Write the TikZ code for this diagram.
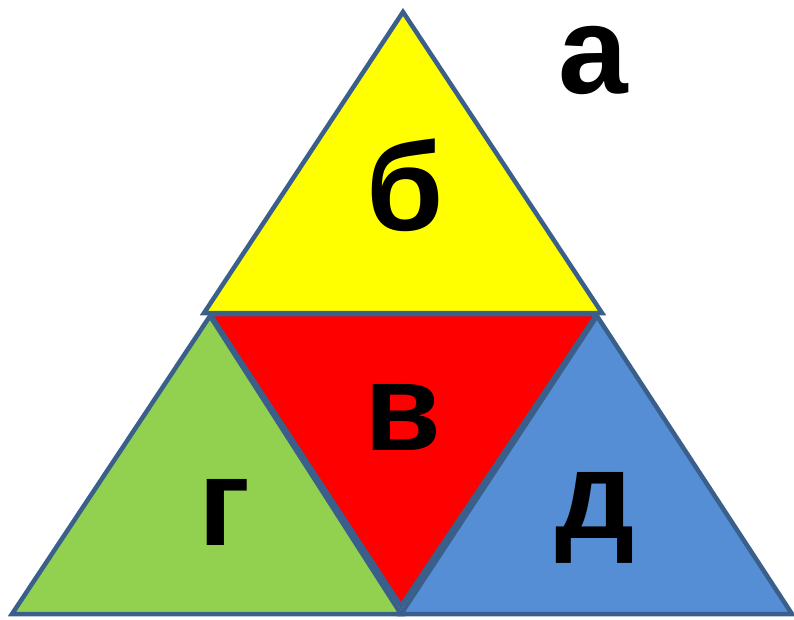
\documentclass[tikz,border=0pt]{standalone}
\usepackage{fontspec}
\setmainfont{Liberation Sans}
\usepackage{tikz}
\usetikzlibrary{positioning}

\definecolor{edgeblue}{HTML}{3A5F8B}
\definecolor{topyellow}{HTML}{FFFF00}
\definecolor{midred}{HTML}{FF0000}
\definecolor{leftgreen}{HTML}{92D050}
\definecolor{rightblue}{HTML}{558ED5}

\begin{document}
\begin{tikzpicture}[
    x=1pt, y=-1pt,
    tri/.style={draw=edgeblue, line width=4.5pt, line join=miter},
    letter/.style={anchor=base, inner sep=0pt, text height=75pt, text depth=15pt,
        font=\fontsize{125}{125}\selectfont\bfseries}
]
\useasboundingbox (0,0) rectangle (794,619);

% Top triangle
\draw[tri, fill=topyellow] (403,12) -- (204,313) -- (602,313) -- cycle;
% Middle (upside down)
\draw[tri, fill=midred] (210,314) -- (597,314) -- (401,606) -- cycle;
% Bottom left
\draw[tri, fill=leftgreen] (210,316) -- (12,614) -- (401,614) -- cycle;
% Bottom right
\draw[tri, fill=rightblue] (597,316) -- (401,614) -- (792,614) -- cycle;

% Letters
\node[letter] (la) at (593,93) {а};
\node[letter] (lb) at (405,230) {б};
\node[letter] (lv) at (403,450) {в};
\node[letter] (lg) at (225,545) {г};
\node[letter] (ld) at (595,538) {д};

\end{tikzpicture}
\end{document}
